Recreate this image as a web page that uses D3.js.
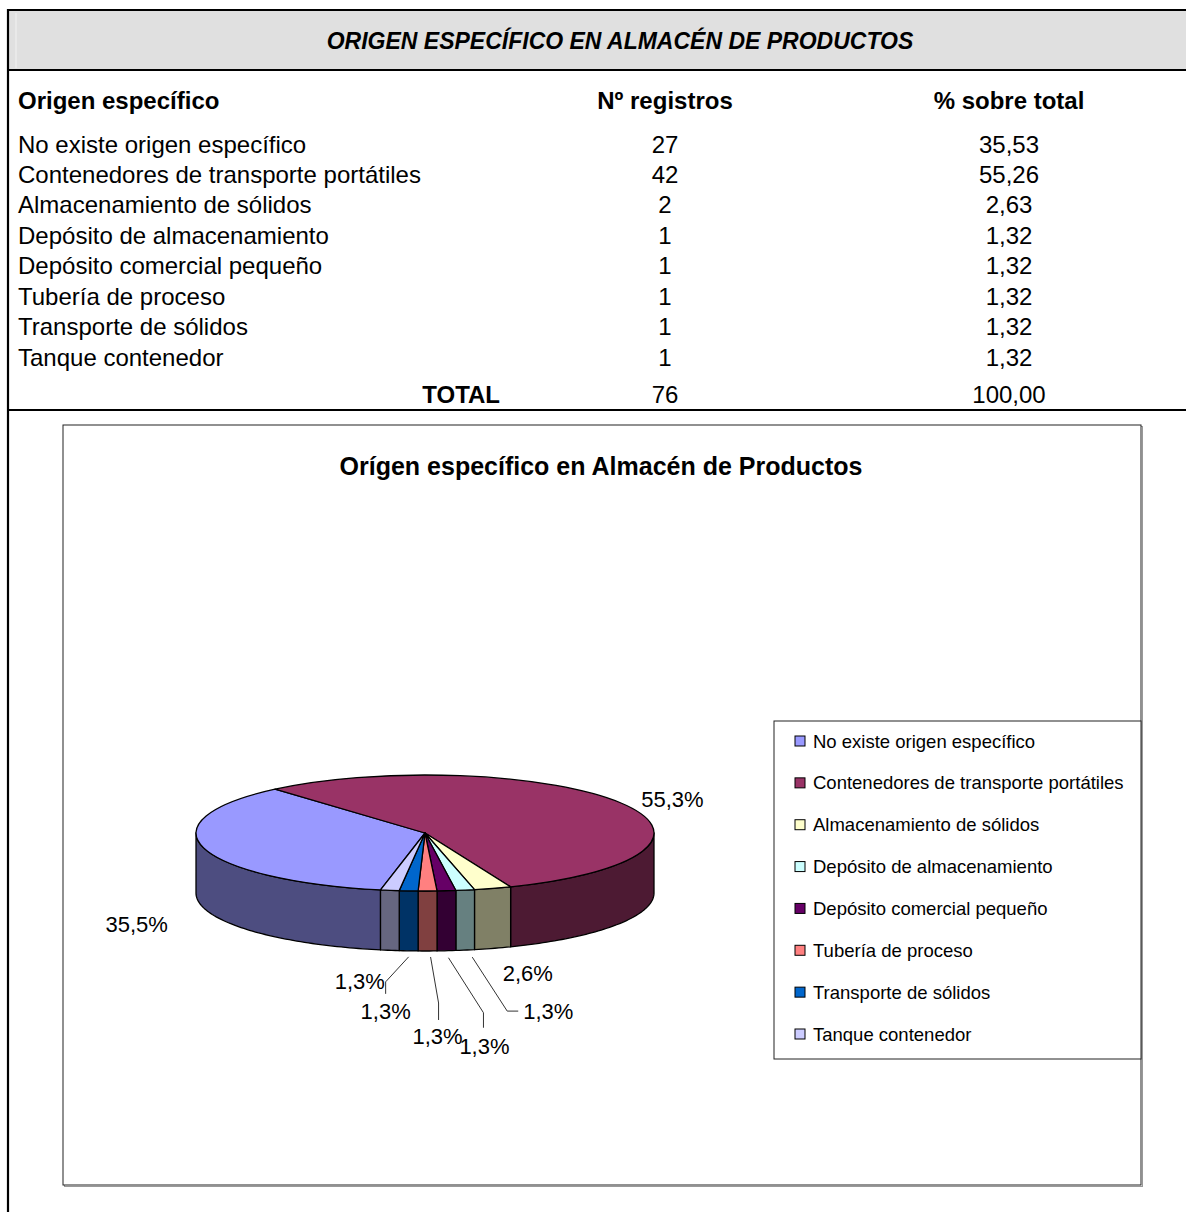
<!DOCTYPE html>
<html>
<head>
<meta charset="utf-8">
<script src="https://cdn.jsdelivr.net/npm/d3@7"></script>
<style>
body { margin: 0; background: #fff; }
svg { display: block; font-family: "Liberation Sans", Arial, sans-serif; }
</style>
</head>
<body>
<svg id="chart"></svg>
<script>
const width = 1186;
const height = 1212;

const categories = [
    'No existe origen específico',
    'Contenedores de transporte portátiles',
    'Almacenamiento de sólidos',
    'Depósito de almacenamiento',
    'Depósito comercial pequeño',
    'Tubería de proceso',
    'Transporte de sólidos',
    'Tanque contenedor'
];
const counts = [27, 42, 2, 1, 1, 1, 1, 1];
const percents = [35.53, 55.26, 2.63, 1.32, 1.32, 1.32, 1.32, 1.32];
const totalCount = 76;
const totalPercent = 100;
const sliceColors = ['#9999FF', '#993366', '#FFFFCC', '#CCFFFF', '#660066', '#FF8080', '#0066CC', '#CCCCFF'];

const mainTitle = 'ORIGEN ESPECÍFICO EN ALMACÉN DE PRODUCTOS';
const chartTitle = 'Orígen específico en Almacén de Productos';
const colHeaders = ['Origen específico', 'Nº registros', '% sobre total'];

const es = d3.formatLocale({decimal: ',', thousands: '.', grouping: [3], currency: ['', ' €']});
const fmt2 = es.format('.2f');
const fmt1 = es.format('.1f');

const svg = d3.select('#chart')
    .attr('width', width)
    .attr('height', height);

// ---- table ----
svg.append('rect')
    .attr('x', 9).attr('y', 11)
    .attr('width', width - 9).attr('height', 59)
    .attr('fill', '#E0E0E0');
svg.append('line')
    .attr('x1', 16).attr('x2', 16).attr('y1', 13).attr('y2', 68)
    .attr('stroke', '#F2F2F2').attr('stroke-width', 1);

const hLines = [10, 70, 410];
svg.selectAll('.hline')
    .data(hLines)
    .enter()
    .append('line')
    .attr('x1', 7).attr('x2', width)
    .attr('y1', d => d).attr('y2', d => d)
    .attr('stroke', '#000').attr('stroke-width', 2.2);
svg.append('line')
    .attr('x1', 8).attr('x2', 8).attr('y1', 9).attr('y2', height)
    .attr('stroke', '#000').attr('stroke-width', 2.2);

svg.append('text')
    .attr('x', 620).attr('y', 41)
    .attr('text-anchor', 'middle')
    .attr('dominant-baseline', 'central')
    .style('font-size', '23px')
    .style('font-weight', 'bold')
    .style('font-style', 'italic')
    .text(mainTitle);

const colX = [18, 665, 1009];
svg.selectAll('.colhead')
    .data(colHeaders)
    .enter()
    .append('text')
    .attr('x', (d, i) => colX[i])
    .attr('y', 100)
    .attr('text-anchor', (d, i) => i === 0 ? 'start' : 'middle')
    .attr('dominant-baseline', 'central')
    .style('font-size', '24px')
    .style('font-weight', 'bold')
    .text(d => d);

const rowY = d3.scalePoint().domain(categories).range([144, 357]);

const rows = svg.selectAll('.row')
    .data(categories)
    .enter()
    .append('g')
    .attr('transform', d => `translate(0, ${rowY(d)})`)
    .style('font-size', '24px');
rows.append('text').attr('x', colX[0]).attr('dominant-baseline', 'central').text(d => d);
rows.append('text').attr('x', colX[1]).attr('text-anchor', 'middle').attr('dominant-baseline', 'central')
    .text((d, i) => counts[i]);
rows.append('text').attr('x', colX[2]).attr('text-anchor', 'middle').attr('dominant-baseline', 'central')
    .text((d, i) => fmt2(percents[i]));

const totalRow = svg.append('g').attr('transform', 'translate(0, 394)').style('font-size', '24px');
totalRow.append('text').attr('x', 500).attr('text-anchor', 'end').attr('dominant-baseline', 'central')
    .style('font-weight', 'bold').text('TOTAL');
totalRow.append('text').attr('x', colX[1]).attr('text-anchor', 'middle').attr('dominant-baseline', 'central')
    .text(totalCount);
totalRow.append('text').attr('x', colX[2]).attr('text-anchor', 'middle').attr('dominant-baseline', 'central')
    .text(fmt2(totalPercent));

// ---- chart box ----
const box = {x: 63, y: 425, w: 1078, h: 760};
svg.append('rect')
    .attr('x', box.x + 1.5).attr('y', box.y + 1.5)
    .attr('width', box.w).attr('height', box.h)
    .attr('fill', 'none').attr('stroke', '#999').attr('stroke-width', 1);
svg.append('rect')
    .attr('x', box.x).attr('y', box.y)
    .attr('width', box.w).attr('height', box.h)
    .attr('fill', '#fff').attr('stroke', '#222').attr('stroke-width', 1);

svg.append('text')
    .attr('x', 601).attr('y', 466)
    .attr('text-anchor', 'middle')
    .attr('dominant-baseline', 'central')
    .style('font-size', '25px')
    .style('font-weight', 'bold')
    .text(chartTitle);

// ---- 3d pie ----
const cx = 425, cy = 833, rx = 229, ry = 58, depth = 60;
const startA = 191.2 * Math.PI / 180;

const pie = d3.pie().sort(null).value(d => d)
    .startAngle(startA).endAngle(startA + 2 * Math.PI);
const arcs = pie(counts);
const arc = d3.arc().innerRadius(0).outerRadius(rx);

function ellPt(a, dy) {
    return [cx + rx * Math.sin(a), cy - ry * Math.cos(a) + (dy || 0)];
}

function wallPath(a0, a1) {
    const n = Math.max(2, Math.ceil((a1 - a0) / 0.02));
    const top = d3.range(n + 1).map(i => ellPt(a0 + (a1 - a0) * i / n));
    const bot = top.map(p => [p[0], p[1] + depth]).reverse();
    return d3.line()(top.concat(bot)) + 'Z';
}

const walls = [];
arcs.forEach((d, i) => {
    [0, 1].forEach(k => {
        const lo = Math.max(d.startAngle, Math.PI / 2 + 2 * Math.PI * k);
        const hi = Math.min(d.endAngle, 3 * Math.PI / 2 + 2 * Math.PI * k);
        if (hi > lo) walls.push({i: i, a0: lo, a1: hi});
    });
});

svg.append('g')
    .selectAll('path')
    .data(walls)
    .enter()
    .append('path')
    .attr('d', d => wallPath(d.a0, d.a1))
    .attr('fill', d => d3.interpolateRgb(sliceColors[d.i], '#000')(0.5))
    .attr('stroke', '#000')
    .attr('stroke-width', 1.3)
    .attr('stroke-linejoin', 'round');

svg.append('g')
    .attr('transform', `translate(${cx}, ${cy}) scale(1, ${ry / rx})`)
    .selectAll('path')
    .data(arcs)
    .enter()
    .append('path')
    .attr('d', arc)
    .attr('fill', (d, i) => sliceColors[i])
    .attr('stroke', '#000')
    .attr('stroke-width', 1.3)
    .attr('stroke-linejoin', 'round')
    .attr('vector-effect', 'non-scaling-stroke');

// label placement relative to the slice's outer edge point
const labelOffsets = [[-67, 17], [52, -3], [35, 25], [83, 61], [38, 96], [10, 86], [-23, 61], [-30, 31]];
const leaders = [
    null, null, null,
    [[7, 7], [42, 61], [53, 61]],
    [[2, 7], [37, 62], [37, 77]],
    [[3, 6], [11, 52], [11, 69]],
    [[0, 6], [-23, 31], [-23, 43]],
    null
];

const anchors = arcs.map(d => {
    const m = (d.startAngle + d.endAngle) / 2;
    return ellPt(m, Math.cos(m) < 0 ? depth : 0);
});

svg.append('g')
    .selectAll('polyline')
    .data(leaders.map((l, i) => ({l: l, i: i})).filter(d => d.l))
    .enter()
    .append('polyline')
    .attr('points', d => d.l.map(p => [anchors[d.i][0] + p[0], anchors[d.i][1] + p[1]].join(',')).join(' '))
    .attr('fill', 'none')
    .attr('stroke', '#333')
    .attr('stroke-width', 1);

svg.append('g')
    .selectAll('text')
    .data(percents)
    .enter()
    .append('text')
    .attr('x', (d, i) => anchors[i][0] + labelOffsets[i][0])
    .attr('y', (d, i) => anchors[i][1] + labelOffsets[i][1])
    .attr('text-anchor', 'middle')
    .attr('dominant-baseline', 'central')
    .style('font-size', '22px')
    .text(d => fmt1(d) + '%');

// ---- legend ----
const legend = svg.append('g');
legend.append('rect')
    .attr('x', 774).attr('y', 721)
    .attr('width', 367).attr('height', 338)
    .attr('fill', '#fff').attr('stroke', '#222').attr('stroke-width', 1);

const legendY = d3.scalePoint().domain(categories).range([741, 1034]);
const items = legend.selectAll('.item')
    .data(categories)
    .enter()
    .append('g')
    .attr('transform', d => `translate(795, ${legendY(d)})`);
items.append('rect')
    .attr('x', 0).attr('y', -5)
    .attr('width', 10).attr('height', 10)
    .attr('fill', (d, i) => sliceColors[i])
    .attr('stroke', '#000').attr('stroke-width', 1);
items.append('text')
    .attr('x', 18)
    .attr('dominant-baseline', 'central')
    .style('font-size', '18.5px')
    .text(d => d);
</script>
</body>
</html>
